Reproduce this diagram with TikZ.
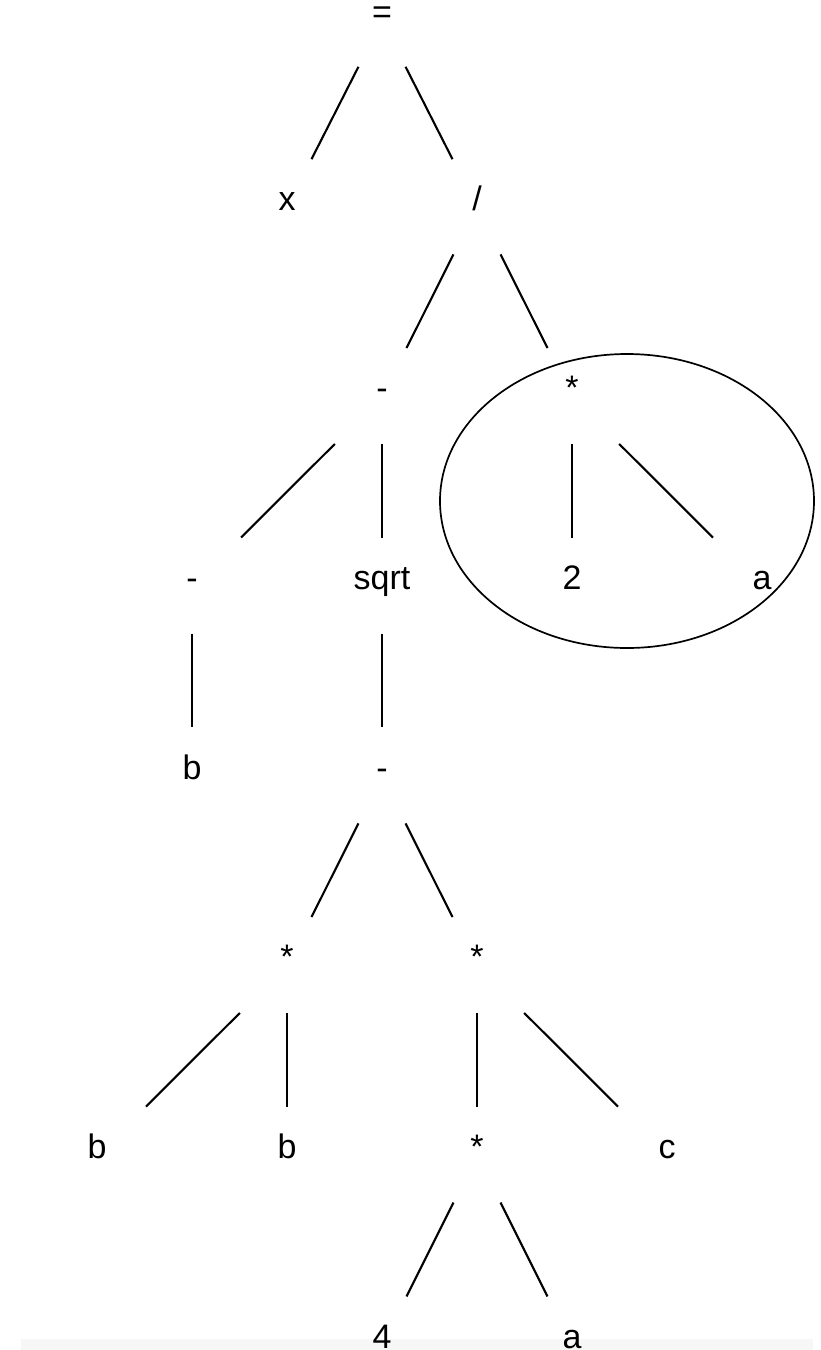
\documentclass[tikz,border=0pt]{standalone}
\usepackage{fontspec}
\setmainfont{Liberation Sans}
\usetikzlibrary{calc}
\newcommand\treeedge[2]{\draw[edge] ($(#1)!0.248!(#2)$) -- ($(#1)!0.742!(#2)$);}
\begin{document}
\begin{tikzpicture}[x=1pt,y=-1pt,
  lbl/.style={anchor=base, inner sep=0pt, text height=0.72em, text depth=0.2em, font=\fontsize{34}{40}\selectfont},
  edge/.style={line width=2.1pt, line cap=butt},
  group/.style={line width=1.7pt}]
\useasboundingbox (0,0) rectangle (820,1350);
\fill[black!3] (21,1339) rectangle (813,1350);
% nodes
\node[lbl] (eq) at (382,23) {=};
\node[lbl] (x) at (287,210) {x};
\node[lbl] (div) at (477,210) {/};
\node[lbl] (m1) at (382,399.5) {-};
\node[lbl] (t1) at (572,399.5) {*};
\node[lbl] (m2) at (192,589) {-};
\node[lbl] (sq) at (382,589) {sqrt};
\node[lbl] (n2) at (572,589) {2};
\node[lbl] (a1) at (762,589) {a};
\node[lbl] (b1) at (192,779) {b};
\node[lbl] (m3) at (382,779) {-};
\node[lbl] (t2) at (287,968.5) {*};
\node[lbl] (t3) at (477,968.5) {*};
\node[lbl] (b2) at (97,1158) {b};
\node[lbl] (b3) at (287,1158) {b};
\node[lbl] (t4) at (477,1158) {*};
\node[lbl] (c) at (667,1158) {c};
\node[lbl] (n4) at (382,1348) {4};
\node[lbl] (a2) at (572,1348) {a};
% edges
\treeedge{eq}{x}
\treeedge{eq}{div}
\treeedge{div}{m1}
\treeedge{div}{t1}
\treeedge{m1}{m2}
\treeedge{m1}{sq}
\treeedge{t1}{n2}
\treeedge{t1}{a1}
\treeedge{m2}{b1}
\treeedge{sq}{m3}
\treeedge{m3}{t2}
\treeedge{m3}{t3}
\treeedge{t2}{b2}
\treeedge{t2}{b3}
\treeedge{t3}{t4}
\treeedge{t3}{c}
\treeedge{t4}{n4}
\treeedge{t4}{a2}
% highlighted subtree
\draw[group] (627,501) ellipse [x radius=187, y radius=147];
\end{tikzpicture}
\end{document}
